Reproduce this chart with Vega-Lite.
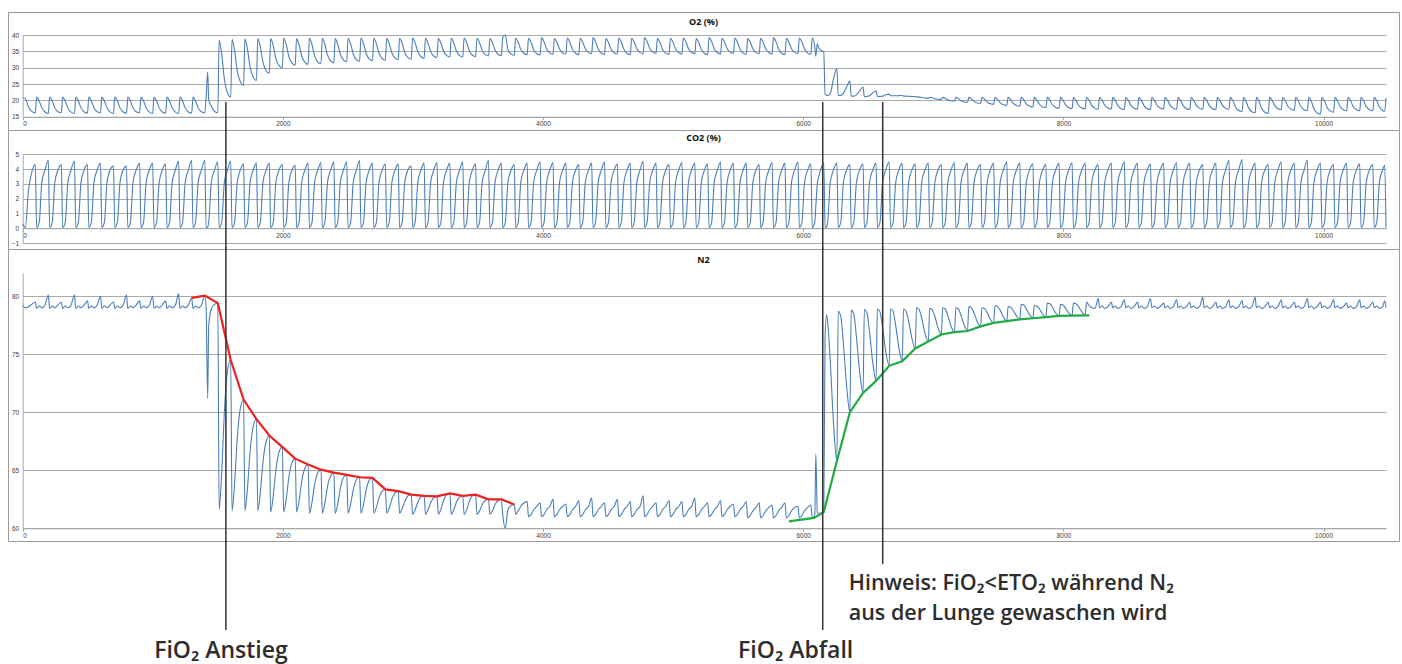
{
"$schema":"https://vega.github.io/schema/vega-lite/v6.json",
"background":"white",
"padding":{"left":7,"top":11,"right":2,"bottom":0},
"autosize":{"type":"pad"},
"bounds":"flush",
"spacing":0,
"resolve":{"scale":{"x":"independent","y":"independent"}},
"config":{
 "view":{"stroke":"#9a9a9a","strokeWidth":1},
 "axis":{"labelFont":"Liberation Sans","labelFontSize":6.5,"labelColor":"#404040","gridColor":"#a9a9a9","domainColor":"#a9a9a9","tickColor":"#a9a9a9","title":null,"labelOverlap":false,"labelBound":false,"tickCount":40},
 "title":{"font":"Open Sans","fontSize":9,"fontWeight":"bold","color":"#111111","anchor":"middle"}
},
"datasets":{
"g":[
{"t":0,"o":20.9,"c":0.3,"n":79.2},{"t":20,"o":20.6,"c":0.05,"n":79.0},{"t":45,"o":18.0,"c":2.6,"n":79.1},{"t":70,"o":16.6,"c":3.8,"n":79.3},
{"t":97,"o":16.1,"c":4.3,"n":79.5},{"t":107,"o":21,"c":0.05,"n":78.95},{"t":127,"o":19.8,"c":0.4,"n":79.15},{"t":147,"o":17.7,"c":3.1,"n":79},{"t":172,"o":16.45,"c":3.95,"n":79.25},
{"t":197,"o":16.0,"c":4.6,"n":80.1},{"t":207,"o":21,"c":0.05,"n":78.95},{"t":227,"o":19.8,"c":0.4,"n":79.15},{"t":247,"o":17.7,"c":3.1,"n":79},{"t":272,"o":16.5,"c":3.95,"n":79.25},
{"t":297,"o":16.2,"c":4.3,"n":79.5},{"t":307,"o":21,"c":0.05,"n":78.95},{"t":327,"o":19.8,"c":0.4,"n":79.15},{"t":347,"o":17.7,"c":3.1,"n":79},{"t":372,"o":16.4,"c":3.95,"n":79.25},
{"t":398,"o":16.0,"c":4.55,"n":80.1},{"t":408,"o":21,"c":0.05,"n":78.95},{"t":428,"o":19.8,"c":0.4,"n":79.15},{"t":448,"o":17.7,"c":3.1,"n":79},{"t":473,"o":16.45,"c":3.95,"n":79.25},
{"t":498,"o":16.1,"c":4.3,"n":79.6},{"t":508,"o":21,"c":0.05,"n":78.95},{"t":528,"o":19.8,"c":0.4,"n":79.15},{"t":548,"o":17.7,"c":3.1,"n":79},{"t":573,"o":16.5,"c":3.95,"n":79.25},
{"t":598,"o":16.2,"c":4.4,"n":80.0},{"t":608,"o":21,"c":0.05,"n":78.95},{"t":628,"o":19.8,"c":0.4,"n":79.15},{"t":648,"o":17.7,"c":3.1,"n":79},{"t":673,"o":16.4,"c":3.95,"n":79.25},
{"t":698,"o":16.0,"c":4.2,"n":79.5},{"t":708,"o":21,"c":0.05,"n":78.95},{"t":728,"o":19.8,"c":0.4,"n":79.15},{"t":748,"o":17.7,"c":3.1,"n":79},{"t":773,"o":16.45,"c":3.95,"n":79.25},
{"t":798,"o":16.1,"c":4.2,"n":80.1},{"t":808,"o":21,"c":0.05,"n":78.95},{"t":828,"o":19.8,"c":0.4,"n":79.15},{"t":848,"o":17.7,"c":3.1,"n":79},{"t":873,"o":16.5,"c":3.95,"n":79.25},
{"t":899,"o":16.2,"c":4.4,"n":79.6},{"t":909,"o":21,"c":0.05,"n":78.95},{"t":929,"o":19.8,"c":0.4,"n":79.15},{"t":949,"o":17.7,"c":3.1,"n":79},{"t":974,"o":16.4,"c":3.95,"n":79.25},
{"t":999,"o":16.0,"c":4.4,"n":80.0},{"t":1009,"o":21,"c":0.05,"n":78.95},{"t":1029,"o":19.8,"c":0.4,"n":79.15},{"t":1049,"o":17.7,"c":3.1,"n":79},{"t":1074,"o":16.45,"c":3.95,"n":79.25},
{"t":1099,"o":16.1,"c":4.35,"n":79.6},{"t":1109,"o":21,"c":0.05,"n":78.95},{"t":1129,"o":19.8,"c":0.4,"n":79.15},{"t":1149,"o":17.7,"c":3.1,"n":79},{"t":1174,"o":16.4,"c":3.95,"n":79.25},
{"t":1199,"o":16.0,"c":4.55,"n":80.2},{"t":1209,"o":21,"c":0.05,"n":78.95},{"t":1229,"o":19.8,"c":0.4,"n":79.15},{"t":1249,"o":17.7,"c":3.1,"n":79},{"t":1274,"o":16.45,"c":3.95,"n":79.25},
{"t":1299,"o":16.1,"c":4.6,"n":79.85},{"t":1309,"o":21,"c":0.05,"n":78.95},{"t":1329,"o":19.8,"c":0.4,"n":79.15},{"t":1349,"o":17.7,"c":3.1,"n":79},{"t":1374,"o":16.5,"c":3.95,"n":79.25},
{"t":1400,"o":16.2,"c":4.6,"n":80.05},{"t":1410,"o":21.0,"c":0.05,"n":78.9},{"t":1422,"o":28.7,"c":0.05,"n":71.2},{"t":1430,"o":20.2,"c":0.4,"n":77.5},{"t":1450,"o":18.2,"c":3.1,"n":78.9},{"t":1475,"o":16.6,"c":3.95,"n":79.3},
{"t":1500,"o":16.2,"c":4.5,"n":79.4},{"t":1510,"o":38.4,"c":0.05,"n":61.6},{"t":1530,"o":34.05,"c":0.4,"n":64.8},{"t":1550,"o":26.6,"c":3.1,"n":70.0},{"t":1575,"o":22.2,"c":3.95,"n":73.6},
{"t":1599,"o":21.0,"c":4.55,"n":74.5},{"t":1609,"o":38.7,"c":0.05,"n":61.5},{"t":1629,"o":35.2,"c":0.4,"n":63.9},{"t":1649,"o":29.1,"c":3.1,"n":67.7},{"t":1674,"o":25.6,"c":3.95,"n":70.4},
{"t":1698,"o":24.6,"c":4.35,"n":71.1},{"t":1708,"o":38.8,"c":0.05,"n":61.5},{"t":1728,"o":35.6,"c":0.4,"n":63.5},{"t":1748,"o":30.2,"c":3.1,"n":66.6},{"t":1773,"o":27.0,"c":3.95,"n":68.85},
{"t":1797,"o":26.1,"c":4.4,"n":69.4},{"t":1807,"o":38.9,"c":0.05,"n":61.5},{"t":1827,"o":36.3,"c":0.4,"n":63.1},{"t":1847,"o":31.7,"c":3.1,"n":65.7},{"t":1872,"o":29.0,"c":3.95,"n":67.5},
{"t":1896,"o":28.3,"c":4.4,"n":68.0},{"t":1906,"o":38.9,"c":0.05,"n":61.4},{"t":1926,"o":36.7,"c":0.4,"n":62.8},{"t":1946,"o":32.8,"c":3.1,"n":65.0},{"t":1971,"o":30.6,"c":3.95,"n":66.6},
{"t":1996,"o":30.0,"c":4.3,"n":67.0},{"t":2006,"o":39.0,"c":0.05,"n":61.4},{"t":2026,"o":37.0,"c":0.4,"n":62.55},{"t":2046,"o":33.4,"c":3.1,"n":64.4},{"t":2071,"o":31.4,"c":3.95,"n":65.7},
{"t":2095,"o":30.8,"c":4.25,"n":66.0},{"t":2105,"o":38.9,"c":0.05,"n":61.4},{"t":2125,"o":36.9,"c":0.4,"n":62.4},{"t":2145,"o":33.5,"c":3.1,"n":64.05},{"t":2170,"o":31.6,"c":3.95,"n":65.2},
{"t":2194,"o":31.0,"c":4.4,"n":65.5},{"t":2204,"o":39.0,"c":0.05,"n":61.3},{"t":2224,"o":37.05,"c":0.4,"n":62.25},{"t":2244,"o":33.7,"c":3.1,"n":63.75},{"t":2269,"o":31.7,"c":3.95,"n":64.8},
{"t":2293,"o":31.2,"c":4.45,"n":65.05},{"t":2303,"o":39.0,"c":0.05,"n":61.3},{"t":2323,"o":37.1,"c":0.4,"n":62.2},{"t":2343,"o":33.9,"c":3.1,"n":63.6},{"t":2368,"o":32.0,"c":3.95,"n":64.55},
{"t":2392,"o":31.5,"c":4.5,"n":64.8},{"t":2402,"o":38.9,"c":0.05,"n":61.3},{"t":2422,"o":37.1,"c":0.4,"n":62.1},{"t":2442,"o":34.1,"c":3.1,"n":63.45},{"t":2467,"o":32.3,"c":3.95,"n":64.4},
{"t":2491,"o":31.8,"c":4.5,"n":64.6},{"t":2501,"o":39.0,"c":0.05,"n":61.3},{"t":2521,"o":37.2,"c":0.4,"n":62.1},{"t":2541,"o":34.2,"c":3.1,"n":63.3},{"t":2566,"o":32.4,"c":3.95,"n":64.2},
{"t":2590,"o":31.9,"c":4.6,"n":64.4},{"t":2600,"o":39.1,"c":0.05,"n":61.3},{"t":2620,"o":37.35,"c":0.4,"n":62.05},{"t":2640,"o":34.35,"c":3.1,"n":63.3},{"t":2665,"o":32.6,"c":3.95,"n":64.15},
{"t":2689,"o":32.1,"c":4.4,"n":64.35},{"t":2699,"o":39.0,"c":0.05,"n":61.3},{"t":2719,"o":37.3,"c":0.4,"n":61.8},{"t":2739,"o":34.4,"c":3.1,"n":62.6},{"t":2764,"o":32.8,"c":3.95,"n":63.2},
{"t":2788,"o":32.3,"c":4.35,"n":63.35},{"t":2798,"o":38.9,"c":0.05,"n":61.3},{"t":2818,"o":37.3,"c":0.4,"n":61.75},{"t":2838,"o":34.5,"c":3.1,"n":62.5},{"t":2863,"o":32.95,"c":3.95,"n":63.05},
{"t":2887,"o":32.5,"c":4.35,"n":63.2},{"t":2897,"o":39.0,"c":0.05,"n":61.3},{"t":2917,"o":37.4,"c":0.4,"n":61.7},{"t":2937,"o":34.6,"c":3.1,"n":62.3},{"t":2962,"o":33.05,"c":3.95,"n":62.8},
{"t":2987,"o":32.6,"c":4.2,"n":62.9},{"t":2997,"o":39.1,"c":0.05,"n":61.2},{"t":3017,"o":37.55,"c":0.4,"n":61.6},{"t":3037,"o":34.9,"c":3.1,"n":62.25},{"t":3062,"o":33.35,"c":3.95,"n":62.7},
{"t":3086,"o":32.9,"c":4.4,"n":62.8},{"t":3096,"o":39.0,"c":0.05,"n":61.2},{"t":3116,"o":37.5,"c":0.4,"n":61.6},{"t":3136,"o":35.0,"c":3.1,"n":62.2},{"t":3161,"o":33.5,"c":3.95,"n":62.65},
{"t":3185,"o":33.1,"c":4.45,"n":62.75},{"t":3195,"o":38.9,"c":0.05,"n":61.2},{"t":3215,"o":37.5,"c":0.4,"n":61.65},{"t":3235,"o":35.1,"c":3.1,"n":62.4},{"t":3260,"o":33.7,"c":3.95,"n":62.9},
{"t":3284,"o":33.3,"c":4.4,"n":63.0},{"t":3294,"o":39.0,"c":0.05,"n":61.2},{"t":3314,"o":37.6,"c":0.4,"n":61.6},{"t":3334,"o":35.1,"c":3.1,"n":62.25},{"t":3359,"o":33.7,"c":3.95,"n":62.7},
{"t":3383,"o":33.3,"c":4.5,"n":62.8},{"t":3393,"o":39.1,"c":0.05,"n":61.2},{"t":3413,"o":37.7,"c":0.4,"n":61.6},{"t":3433,"o":35.2,"c":3.1,"n":62.3},{"t":3458,"o":33.8,"c":3.95,"n":62.8},
{"t":3482,"o":33.4,"c":4.35,"n":62.9},{"t":3492,"o":39.0,"c":0.05,"n":61.2},{"t":3512,"o":37.65,"c":0.4,"n":61.5},{"t":3532,"o":35.3,"c":3.1,"n":62.05},{"t":3557,"o":34.0,"c":3.95,"n":62.4},
{"t":3581,"o":33.6,"c":4.6,"n":62.5},{"t":3591,"o":38.9,"c":0.05,"n":61.2},{"t":3611,"o":37.6,"c":0.4,"n":61.5},{"t":3631,"o":35.4,"c":3.1,"n":62.05},{"t":3656,"o":34.05,"c":3.95,"n":62.4},
{"t":3680,"o":33.7,"c":4.4,"n":62.5},{"t":3690,"o":39.2,"c":0.05,"n":61.2},{"t":3710,"o":40.0,"c":0.4,"n":60.0},{"t":3730,"o":35.5,"c":3.1,"n":61.6},{"t":3755,"o":34.2,"c":3.95,"n":61.95},
{"t":3779,"o":33.8,"c":4.3,"n":62.05},{"t":3789,"o":39.0,"c":0.05,"n":61.2},{"t":3809,"o":37.75,"c":0.4,"n":61.5},{"t":3829,"o":35.6,"c":3.1,"n":61.9},{"t":3854,"o":34.35,"c":3.95,"n":62.2},
{"t":3878,"o":34.0,"c":4.4,"n":62.3},{"t":3888,"o":39.0,"c":0.05,"n":61.0},{"t":3908,"o":37.7,"c":0.4,"n":61.2},{"t":3928,"o":35.5,"c":3.1,"n":61.6},{"t":3953,"o":34.25,"c":3.95,"n":61.9},
{"t":3978,"o":33.9,"c":4.5,"n":62.2},{"t":3988,"o":39.2,"c":0.05,"n":61.0},{"t":4008,"o":37.9,"c":0.4,"n":61.2},{"t":4028,"o":35.7,"c":3.1,"n":61.6},{"t":4053,"o":34.45,"c":3.95,"n":61.9},
{"t":4077,"o":34.1,"c":4.45,"n":62.5},{"t":4087,"o":38.9,"c":0.05,"n":61.0},{"t":4107,"o":37.7,"c":0.4,"n":61.2},{"t":4127,"o":35.7,"c":3.1,"n":61.6},{"t":4152,"o":34.5,"c":3.95,"n":61.9},
{"t":4176,"o":34.2,"c":4.4,"n":62.1},{"t":4186,"o":39.1,"c":0.05,"n":61.0},{"t":4206,"o":37.8,"c":0.4,"n":61.2},{"t":4226,"o":35.6,"c":3.1,"n":61.6},{"t":4251,"o":34.35,"c":3.95,"n":61.9},
{"t":4275,"o":34.0,"c":4.3,"n":62.4},{"t":4285,"o":39.0,"c":0.05,"n":61.0},{"t":4305,"o":37.8,"c":0.4,"n":61.2},{"t":4325,"o":35.8,"c":3.1,"n":61.6},{"t":4350,"o":34.6,"c":3.95,"n":61.9},
{"t":4374,"o":34.3,"c":4.4,"n":62.6},{"t":4384,"o":39.2,"c":0.05,"n":61.0},{"t":4404,"o":37.9,"c":0.4,"n":61.2},{"t":4424,"o":35.7,"c":3.1,"n":61.6},{"t":4449,"o":34.45,"c":3.95,"n":61.9},
{"t":4473,"o":34.1,"c":4.5,"n":62.2},{"t":4483,"o":38.9,"c":0.05,"n":61.0},{"t":4503,"o":37.7,"c":0.4,"n":61.2},{"t":4523,"o":35.7,"c":3.1,"n":61.6},{"t":4548,"o":34.5,"c":3.95,"n":61.9},
{"t":4572,"o":34.2,"c":4.35,"n":62.5},{"t":4582,"o":39.1,"c":0.05,"n":61.0},{"t":4602,"o":37.8,"c":0.4,"n":61.2},{"t":4622,"o":35.6,"c":3.1,"n":61.6},{"t":4647,"o":34.35,"c":3.95,"n":61.9},
{"t":4671,"o":34.0,"c":4.4,"n":62.3},{"t":4681,"o":39.0,"c":0.05,"n":61.0},{"t":4701,"o":37.8,"c":0.4,"n":61.2},{"t":4721,"o":35.8,"c":3.1,"n":61.6},{"t":4746,"o":34.6,"c":3.95,"n":61.9},
{"t":4770,"o":34.3,"c":4.55,"n":62.8},{"t":4780,"o":39.2,"c":0.05,"n":61.0},{"t":4800,"o":38.0,"c":0.4,"n":61.2},{"t":4820,"o":35.9,"c":3.1,"n":61.6},{"t":4845,"o":34.75,"c":3.95,"n":61.9},
{"t":4869,"o":34.4,"c":4.4,"n":62.2},{"t":4879,"o":38.9,"c":0.05,"n":61.0},{"t":4899,"o":37.7,"c":0.4,"n":61.2},{"t":4919,"o":35.6,"c":3.1,"n":61.6},{"t":4944,"o":34.45,"c":3.95,"n":61.9},
{"t":4969,"o":34.1,"c":4.3,"n":62.4},{"t":4979,"o":39.0,"c":0.05,"n":61.0},{"t":4999,"o":37.8,"c":0.4,"n":61.2},{"t":5019,"o":35.7,"c":3.1,"n":61.6},{"t":5044,"o":34.55,"c":3.95,"n":61.9},
{"t":5068,"o":34.2,"c":4.45,"n":62.3},{"t":5078,"o":39.1,"c":0.05,"n":61.0},{"t":5098,"o":37.9,"c":0.4,"n":61.2},{"t":5118,"o":35.8,"c":3.1,"n":61.6},{"t":5143,"o":34.65,"c":3.95,"n":61.9},
{"t":5167,"o":34.3,"c":4.4,"n":62.6},{"t":5177,"o":38.9,"c":0.05,"n":61.0},{"t":5197,"o":37.7,"c":0.4,"n":61.2},{"t":5217,"o":35.6,"c":3.1,"n":61.6},{"t":5242,"o":34.35,"c":3.95,"n":61.9},
{"t":5266,"o":34.0,"c":4.35,"n":62.2},{"t":5276,"o":39.2,"c":0.05,"n":61.0},{"t":5296,"o":37.95,"c":0.4,"n":61.2},{"t":5316,"o":35.8,"c":3.1,"n":61.6},{"t":5341,"o":34.55,"c":3.95,"n":61.9},
{"t":5365,"o":34.2,"c":4.5,"n":62.4},{"t":5375,"o":39.0,"c":0.05,"n":61.0},{"t":5395,"o":37.85,"c":0.4,"n":61.2},{"t":5415,"o":35.9,"c":3.1,"n":61.6},{"t":5440,"o":34.7,"c":3.95,"n":61.9},
{"t":5464,"o":34.4,"c":4.4,"n":62.1},{"t":5474,"o":39.1,"c":0.05,"n":61.0},{"t":5494,"o":37.85,"c":0.4,"n":61.2},{"t":5514,"o":35.7,"c":3.1,"n":61.6},{"t":5539,"o":34.45,"c":3.95,"n":61.9},
{"t":5563,"o":34.1,"c":4.4,"n":62.3},{"t":5573,"o":38.9,"c":0.05,"n":60.9},{"t":5593,"o":37.75,"c":0.4,"n":61.1},{"t":5613,"o":35.8,"c":3.1,"n":61.5},{"t":5638,"o":34.6,"c":3.95,"n":61.8},
{"t":5662,"o":34.3,"c":4.3,"n":62.2},{"t":5672,"o":39.0,"c":0.05,"n":60.9},{"t":5692,"o":37.8,"c":0.4,"n":61.1},{"t":5712,"o":35.7,"c":3.1,"n":61.5},{"t":5737,"o":34.55,"c":3.95,"n":61.8},
{"t":5761,"o":34.2,"c":4.45,"n":62.0},{"t":5771,"o":39.2,"c":0.05,"n":60.9},{"t":5791,"o":37.9,"c":0.4,"n":61.1},{"t":5811,"o":35.7,"c":3.1,"n":61.5},{"t":5836,"o":34.35,"c":3.95,"n":61.8},
{"t":5860,"o":34.0,"c":4.4,"n":62.2},{"t":5870,"o":39.0,"c":0.05,"n":60.9},{"t":5890,"o":37.8,"c":0.4,"n":61.1},{"t":5910,"o":35.8,"c":3.1,"n":61.5},{"t":5935,"o":34.6,"c":3.95,"n":61.8},
{"t":5960,"o":34.3,"c":4.5,"n":61.9},{"t":5970,"o":39.1,"c":0.05,"n":60.9},{"t":5990,"o":37.85,"c":0.4,"n":61.1},{"t":6010,"o":35.7,"c":3.1,"n":61.5},{"t":6035,"o":34.45,"c":3.95,"n":61.8},
{"t":6059,"o":34.1,"c":4.35,"n":62.0},{"t":6069,"o":39.1,"c":0.05,"n":60.9},{"t":6089,"o":36.3,"c":0.4,"n":61.2},{"t":6097,"o":33.5,"c":1.5,"n":66.4},{"t":6108,"o":37.3,"c":3.0,"n":61.4},{"t":6120,"o":36.0,"c":3.5,"n":61.3},{"t":6134,"o":35.4,"c":3.95,"n":61.3},
{"t":6158,"o":34.8,"c":4.4,"n":61.4},{"t":6168,"o":21.8,"c":0.05,"n":76.5},{"t":6180,"o":21.6,"c":0.1,"n":78.4},{"t":6188,"o":21.5,"c":0.4,"n":77.8},{"t":6208,"o":22.1,"c":3.1,"n":74.4},{"t":6233,"o":26.7,"c":3.95,"n":69.0},
{"t":6259,"o":29.7,"c":4.4,"n":65.8},{"t":6269,"o":21.5,"c":0.05,"n":78.7},{"t":6289,"o":21.5,"c":0.4,"n":78.25},{"t":6309,"o":22.2,"c":3.1,"n":75.9},{"t":6334,"o":24.1,"c":3.95,"n":72.2},
{"t":6359,"o":25.9,"c":4.3,"n":70.0},{"t":6369,"o":21.3,"c":0.05,"n":78.8},{"t":6389,"o":21.3,"c":0.4,"n":78.45},{"t":6409,"o":21.7,"c":3.1,"n":76.5},{"t":6434,"o":22.9,"c":3.95,"n":73.45},
{"t":6460,"o":24.1,"c":4.35,"n":71.66},{"t":6470,"o":21.1,"c":0.05,"n":78.85},{"t":6490,"o":21.2,"c":0.4,"n":78.55},{"t":6510,"o":21.4,"c":3.1,"n":76.9},{"t":6535,"o":22.3,"c":3.95,"n":74.25},
{"t":6560,"o":22.9,"c":4.4,"n":72.7},{"t":6570,"o":21.2,"c":0.05,"n":78.9},{"t":6590,"o":21.2,"c":0.4,"n":78.65},{"t":6610,"o":21.3,"c":3.1,"n":77.3},{"t":6635,"o":21.7,"c":3.95,"n":75.2},
{"t":6661,"o":21.9,"c":4.5,"n":74.0},{"t":6671,"o":21.4,"c":0.05,"n":78.9},{"t":6691,"o":21.4,"c":0.4,"n":78.7},{"t":6711,"o":21.4,"c":3.1,"n":77.45},{"t":6736,"o":21.45,"c":3.95,"n":75.5},
{"t":6761,"o":21.5,"c":4.4,"n":74.4},{"t":6771,"o":21.3,"c":0.05,"n":78.9},{"t":6791,"o":21.3,"c":0.4,"n":78.7},{"t":6811,"o":21.25,"c":3.1,"n":77.8},{"t":6836,"o":21.2,"c":3.95,"n":76.35},
{"t":6861,"o":21.15,"c":4.35,"n":75.5},{"t":6871,"o":21.1,"c":0.05,"n":79.0},{"t":6891,"o":21.0,"c":0.4,"n":78.85},{"t":6911,"o":20.85,"c":3.1,"n":78.1},{"t":6936,"o":20.7,"c":3.95,"n":76.8},
{"t":6962,"o":20.6,"c":4.4,"n":76.1},{"t":6972,"o":20.95,"c":0.05,"n":78.95},{"t":6992,"o":20.8,"c":0.4,"n":78.85},{"t":7012,"o":20.5,"c":3.1,"n":78.25},{"t":7037,"o":20.35,"c":3.95,"n":77.25},
{"t":7062,"o":20.3,"c":4.3,"n":76.7},{"t":7072,"o":20.9,"c":0.05,"n":79.0},{"t":7092,"o":20.6,"c":0.4,"n":78.9},{"t":7112,"o":20.15,"c":3.1,"n":78.3},{"t":7137,"o":19.9,"c":3.95,"n":77.4},
{"t":7163,"o":19.8,"c":4.45,"n":76.9},{"t":7173,"o":20.9,"c":0.05,"n":79.0},{"t":7193,"o":20.5,"c":0.4,"n":78.9},{"t":7213,"o":19.9,"c":3.1,"n":78.35},{"t":7238,"o":19.5,"c":3.95,"n":77.5},
{"t":7263,"o":19.4,"c":4.4,"n":77.0},{"t":7273,"o":20.9,"c":0.05,"n":79.1},{"t":7293,"o":20.45,"c":0.4,"n":79.0},{"t":7313,"o":19.7,"c":3.1,"n":78.55},{"t":7338,"o":19.2,"c":3.95,"n":77.8},
{"t":7364,"o":19.1,"c":4.3,"n":77.4},{"t":7374,"o":20.9,"c":0.05,"n":79.0},{"t":7394,"o":20.4,"c":0.4,"n":78.95},{"t":7414,"o":19.5,"c":3.1,"n":78.6},{"t":7439,"o":18.95,"c":3.95,"n":78.0},
{"t":7464,"o":18.8,"c":4.4,"n":77.7},{"t":7474,"o":20.9,"c":0.05,"n":79.2},{"t":7494,"o":20.3,"c":0.4,"n":79.1},{"t":7514,"o":19.3,"c":3.1,"n":78.8},{"t":7539,"o":18.65,"c":3.95,"n":78.2},
{"t":7565,"o":18.5,"c":4.5,"n":77.85},{"t":7575,"o":20.9,"c":0.05,"n":79.1},{"t":7595,"o":20.2,"c":0.4,"n":79.05},{"t":7615,"o":19.05,"c":3.1,"n":78.75},{"t":7640,"o":18.4,"c":3.95,"n":78.3},
{"t":7665,"o":18.2,"c":4.4,"n":78.0},{"t":7675,"o":20.9,"c":0.05,"n":79.3},{"t":7695,"o":20.2,"c":0.4,"n":79.25},{"t":7715,"o":18.9,"c":3.1,"n":78.9},{"t":7740,"o":18.2,"c":3.95,"n":78.4},
{"t":7766,"o":18.0,"c":4.35,"n":78.1},{"t":7776,"o":20.9,"c":0.05,"n":79.2},{"t":7796,"o":20.1,"c":0.4,"n":79.15},{"t":7816,"o":18.8,"c":3.1,"n":78.9},{"t":7841,"o":18.0,"c":3.95,"n":78.45},
{"t":7866,"o":17.8,"c":4.3,"n":78.2},{"t":7876,"o":20.9,"c":0.05,"n":79.4},{"t":7896,"o":20.1,"c":0.4,"n":79.35},{"t":7916,"o":18.65,"c":3.1,"n":79.05},{"t":7941,"o":17.85,"c":3.95,"n":78.55},
{"t":7967,"o":17.6,"c":4.4,"n":78.3},{"t":7977,"o":20.9,"c":0.05,"n":79.3},{"t":7997,"o":20.05,"c":0.4,"n":79.25},{"t":8017,"o":18.6,"c":3.1,"n":78.95},{"t":8042,"o":17.75,"c":3.95,"n":78.55},
{"t":8067,"o":17.5,"c":4.45,"n":78.33},{"t":8077,"o":20.9,"c":0.05,"n":79.4},{"t":8097,"o":20.0,"c":0.4,"n":79.35},{"t":8117,"o":18.5,"c":3.1,"n":79.1},{"t":8142,"o":17.65,"c":3.95,"n":78.65},
{"t":8168,"o":17.4,"c":4.4,"n":78.4},{"t":8178,"o":20.9,"c":0.05,"n":79.5},{"t":8198,"o":20.0,"c":0.4,"n":79.2},{"t":8218,"o":18.45,"c":3.1,"n":79.0},{"t":8243,"o":17.55,"c":3.95,"n":78.95},
{"t":8268,"o":17.3,"c":4.3,"n":79.8},{"t":8278,"o":20.9,"c":0.05,"n":79.0},{"t":8298,"o":20.0,"c":0.4,"n":79.15},{"t":8318,"o":18.5,"c":3.1,"n":78.95},{"t":8343,"o":17.65,"c":3.95,"n":79.1},
{"t":8369,"o":17.4,"c":4.4,"n":79.5},{"t":8379,"o":20.9,"c":0.05,"n":79.0},{"t":8399,"o":20.0,"c":0.4,"n":79.15},{"t":8419,"o":18.4,"c":3.1,"n":78.95},{"t":8444,"o":17.45,"c":3.95,"n":79.1},
{"t":8469,"o":17.2,"c":4.5,"n":79.7},{"t":8479,"o":20.9,"c":0.05,"n":79.0},{"t":8499,"o":20.0,"c":0.4,"n":79.15},{"t":8519,"o":18.45,"c":3.1,"n":78.95},{"t":8544,"o":17.55,"c":3.95,"n":79.1},
{"t":8570,"o":17.3,"c":4.4,"n":79.5},{"t":8580,"o":20.9,"c":0.05,"n":79.0},{"t":8600,"o":20.0,"c":0.4,"n":79.15},{"t":8620,"o":18.4,"c":3.1,"n":78.95},{"t":8645,"o":17.45,"c":3.95,"n":79.1},
{"t":8670,"o":17.2,"c":4.35,"n":79.8},{"t":8680,"o":20.9,"c":0.05,"n":79.0},{"t":8700,"o":20.0,"c":0.4,"n":79.15},{"t":8720,"o":18.5,"c":3.1,"n":78.95},{"t":8745,"o":17.65,"c":3.95,"n":79.1},
{"t":8771,"o":17.4,"c":4.4,"n":79.4},{"t":8781,"o":20.9,"c":0.05,"n":79.0},{"t":8801,"o":20.0,"c":0.4,"n":79.15},{"t":8821,"o":18.45,"c":3.1,"n":78.95},{"t":8846,"o":17.55,"c":3.95,"n":79.1},
{"t":8871,"o":17.3,"c":4.45,"n":79.7},{"t":8881,"o":20.9,"c":0.05,"n":79.0},{"t":8901,"o":20.0,"c":0.4,"n":79.15},{"t":8921,"o":18.4,"c":3.1,"n":78.95},{"t":8946,"o":17.45,"c":3.95,"n":79.1},
{"t":8972,"o":17.2,"c":4.4,"n":79.5},{"t":8982,"o":20.9,"c":0.05,"n":79.0},{"t":9002,"o":20.0,"c":0.4,"n":79.15},{"t":9022,"o":18.45,"c":3.1,"n":78.95},{"t":9047,"o":17.55,"c":3.95,"n":79.1},
{"t":9072,"o":17.3,"c":4.3,"n":79.9},{"t":9082,"o":20.9,"c":0.05,"n":79.0},{"t":9102,"o":20.0,"c":0.4,"n":79.15},{"t":9122,"o":18.4,"c":3.1,"n":78.95},{"t":9147,"o":17.45,"c":3.95,"n":79.1},
{"t":9173,"o":17.2,"c":4.4,"n":79.5},{"t":9183,"o":20.9,"c":0.05,"n":79.0},{"t":9203,"o":20.0,"c":0.4,"n":79.15},{"t":9223,"o":18.45,"c":3.1,"n":78.95},{"t":9248,"o":17.55,"c":3.95,"n":79.1},
{"t":9273,"o":17.3,"c":4.6,"n":79.7},{"t":9283,"o":20.9,"c":0.05,"n":79.0},{"t":9303,"o":19.85,"c":0.4,"n":79.15},{"t":9323,"o":18.0,"c":3.1,"n":78.95},{"t":9348,"o":16.9,"c":3.95,"n":79.1},
{"t":9374,"o":16.6,"c":4.65,"n":79.6},{"t":9384,"o":20.9,"c":0.05,"n":79.0},{"t":9404,"o":19.7,"c":0.4,"n":79.15},{"t":9424,"o":17.7,"c":3.1,"n":78.95},{"t":9449,"o":16.5,"c":3.95,"n":79.1},
{"t":9474,"o":16.2,"c":4.4,"n":79.9},{"t":9484,"o":20.9,"c":0.05,"n":79.0},{"t":9504,"o":19.7,"c":0.4,"n":79.15},{"t":9524,"o":17.55,"c":3.1,"n":78.95},{"t":9549,"o":16.35,"c":3.95,"n":79.1},
{"t":9575,"o":16.0,"c":4.3,"n":79.5},{"t":9585,"o":20.9,"c":0.05,"n":79.0},{"t":9605,"o":20.0,"c":0.4,"n":79.15},{"t":9625,"o":18.4,"c":3.1,"n":78.95},{"t":9650,"o":17.45,"c":3.95,"n":79.1},
{"t":9675,"o":17.2,"c":4.5,"n":79.7},{"t":9685,"o":20.9,"c":0.05,"n":79.0},{"t":9705,"o":19.9,"c":0.4,"n":79.15},{"t":9725,"o":18.25,"c":3.1,"n":78.95},{"t":9750,"o":17.3,"c":3.95,"n":79.1},
{"t":9776,"o":17.0,"c":4.4,"n":79.5},{"t":9786,"o":20.9,"c":0.05,"n":79.0},{"t":9806,"o":19.9,"c":0.4,"n":79.15},{"t":9826,"o":18.1,"c":3.1,"n":78.95},{"t":9851,"o":17.1,"c":3.95,"n":79.1},
{"t":9876,"o":16.8,"c":4.6,"n":79.8},{"t":9886,"o":20.9,"c":0.05,"n":79.0},{"t":9906,"o":19.7,"c":0.4,"n":79.15},{"t":9926,"o":17.45,"c":3.1,"n":78.95},{"t":9951,"o":16.15,"c":3.95,"n":79.1},
{"t":9977,"o":15.8,"c":4.4,"n":79.5},{"t":9987,"o":20.9,"c":0.05,"n":79.0},{"t":10007,"o":19.8,"c":0.4,"n":79.15},{"t":10027,"o":17.85,"c":3.1,"n":78.95},{"t":10052,"o":16.7,"c":3.95,"n":79.1},
{"t":10077,"o":16.4,"c":4.3,"n":79.7},{"t":10087,"o":20.9,"c":0.05,"n":79.0},{"t":10107,"o":19.9,"c":0.4,"n":79.15},{"t":10127,"o":18.1,"c":3.1,"n":78.95},{"t":10152,"o":17.1,"c":3.95,"n":79.1},
{"t":10178,"o":16.8,"c":4.4,"n":79.4},{"t":10188,"o":20.9,"c":0.05,"n":79.0},{"t":10208,"o":19.9,"c":0.4,"n":79.15},{"t":10228,"o":18.1,"c":3.1,"n":78.95},{"t":10253,"o":17.1,"c":3.95,"n":79.1},
{"t":10278,"o":16.8,"c":4.35,"n":79.7},{"t":10288,"o":20.9,"c":0.05,"n":79.0},{"t":10308,"o":19.9,"c":0.4,"n":79.15},{"t":10328,"o":18.1,"c":3.1,"n":78.95},{"t":10353,"o":17.1,"c":3.95,"n":79.1},
{"t":10379,"o":16.8,"c":4.3,"n":79.5},{"t":10389,"o":20.9,"c":0.05,"n":79.0},{"t":10409,"o":19.85,"c":0.4,"n":79.15},{"t":10429,"o":18.0,"c":3.1,"n":78.95},{"t":10454,"o":16.9,"c":3.95,"n":79.1},
{"t":10470,"o":16.6,"c":4.25,"n":79.6},{"t":10480,"o":20.8,"c":0.05,"n":79.0}
],
"red":[
{"t":1299,"v":79.85},{"t":1400,"v":80.05},{"t":1500,"v":79.4},{"t":1599,"v":74.5},{"t":1698,"v":71.1},{"t":1797,"v":69.4},{"t":1896,"v":68.0},{"t":1996,"v":67.0},{"t":2095,"v":66.0},{"t":2194,"v":65.5},{"t":2293,"v":65.05},{"t":2392,"v":64.8},{"t":2491,"v":64.6},{"t":2590,"v":64.4},{"t":2689,"v":64.35},{"t":2788,"v":63.35},{"t":2887,"v":63.2},{"t":2987,"v":62.9},{"t":3086,"v":62.8},{"t":3185,"v":62.75},{"t":3284,"v":63.0},{"t":3383,"v":62.8},{"t":3482,"v":62.9},{"t":3581,"v":62.5},{"t":3680,"v":62.5},{"t":3779,"v":62.05}
],
"green":[
{"t":5890,"v":60.6},{"t":6083,"v":60.9},{"t":6158,"v":61.4},{"t":6259,"v":65.8},{"t":6359,"v":70.0},{"t":6460,"v":71.66},{"t":6560,"v":72.7},{"t":6661,"v":74.0},{"t":6761,"v":74.4},{"t":6861,"v":75.5},{"t":6962,"v":76.1},{"t":7062,"v":76.7},{"t":7163,"v":76.9},{"t":7263,"v":77.0},{"t":7364,"v":77.4},{"t":7464,"v":77.7},{"t":7565,"v":77.85},{"t":7665,"v":78.0},{"t":7766,"v":78.1},{"t":7866,"v":78.2},{"t":7967,"v":78.3},{"t":8067,"v":78.33},{"t":8200,"v":78.35}
],
"lines":[
{"t":1562,"o1":19.5,"o2":10.8,"c1":6.7,"c2":-1.45,"n1":84.2,"n2":58.8,"a1":0,"a2":0.718},
{"t":6150,"o1":19.5,"o2":10.8,"c1":6.7,"c2":-1.45,"n1":84.2,"n2":58.8,"a1":0,"a2":0.718},
{"t":6611,"o1":19.5,"o2":10.8,"c1":6.7,"c2":-1.45,"n1":84.2,"n2":58.8,"a1":0,"a2":0.185}
],
"labelsC":[{"t":1524,"d":0.887,"label":"FiO₂ Anstieg"},{"t":5942,"d":0.887,"label":"FiO₂ Abfall"}],
"labelsL":[{"t":6350,"d":0.347,"label":"Hinweis: FiO₂<ETO₂ während N₂"},{"t":6350,"d":0.589,"label":"aus der Lunge gewaschen wird"}]
},
"vconcat":[
{
 "width":1391,"height":118,
 "title":{"text":"O2 (%)","offset":-19,"baseline":"middle"},
 "layer":[
  {"data":{"name":"g"},"mark":{"type":"line","color":"#4a7ebb","strokeWidth":1.1,"interpolate":"monotone"},
   "encoding":{
    "x":{"field":"t","type":"quantitative","scale":{"domain":[0,10480],"range":[14.7,1378],"nice":false,"zero":false},"axis":{"values":[0,2000,4000,6000,8000,10000],"format":"d","grid":false,"offset":-13.3,"tickSize":3,"labelPadding":1}},
    "y":{"field":"o","type":"quantitative","scale":{"domain":[15,40],"range":[104.7,23],"zero":false,"nice":false},"axis":{"values":[15,20,25,30,35,40],"format":"d","offset":-14.7,"tickSize":0,"labelPadding":4,"grid":true}}
   }},
  {"data":{"name":"lines"},"mark":{"type":"rule","color":"#333333","strokeWidth":1.5},
   "encoding":{"x":{"field":"t","type":"quantitative"},"y":{"field":"o1","type":"quantitative"},"y2":{"field":"o2"}}}
 ]
},
{
 "width":1391,"height":119,
 "title":{"text":"CO2 (%)","offset":-19,"baseline":"middle"},
 "layer":[
  {"data":{"name":"g"},"mark":{"type":"line","color":"#4a7ebb","strokeWidth":1.1,"interpolate":"monotone"},
   "encoding":{
    "x":{"field":"t","type":"quantitative","scale":{"domain":[0,10480],"range":[14.7,1378],"nice":false,"zero":false},"axis":{"values":[0,2000,4000,6000,8000,10000],"format":"d","grid":false,"offset":-20.8,"tickSize":3,"labelPadding":1}},
    "y":{"field":"c","type":"quantitative","scale":{"domain":[-1,5],"range":[113,24.3],"zero":false,"nice":false},"axis":{"values":[-1,0,1,2,3,4,5],"format":"d","offset":-14.7,"tickSize":0,"labelPadding":4,"grid":true}}
   }},
  {"data":{"name":"lines"},"mark":{"type":"rule","color":"#333333","strokeWidth":1.5},
   "encoding":{"x":{"field":"t","type":"quantitative"},"y":{"field":"c1","type":"quantitative"},"y2":{"field":"c2"}}}
 ]
},
{
 "width":1391,"height":292,
 "title":{"text":"N2","offset":-22,"baseline":"middle"},
 "layer":[
  {"data":{"name":"g"},"mark":{"type":"line","color":"#4a7ebb","strokeWidth":1.1,"interpolate":"monotone"},
   "encoding":{
    "x":{"field":"t","type":"quantitative","scale":{"domain":[0,10480],"range":[14.7,1378],"nice":false,"zero":false},"axis":{"values":[0,2000,4000,6000,8000,10000],"format":"d","grid":false,"offset":-12.7,"tickSize":3,"labelPadding":1}},
    "y":{"field":"n","type":"quantitative","scale":{"domain":[60,82],"range":[279.3,24],"zero":false,"nice":false},"axis":{"values":[60,65,70,75,80],"format":"d","offset":-14.7,"tickSize":0,"labelPadding":4,"grid":true}}
   }},
  {"data":{"name":"red"},"mark":{"type":"line","color":"#ee2020","strokeWidth":2.2},
   "encoding":{"x":{"field":"t","type":"quantitative"},"y":{"field":"v","type":"quantitative"}}},
  {"data":{"name":"green"},"mark":{"type":"line","color":"#22aa44","strokeWidth":2.2},
   "encoding":{"x":{"field":"t","type":"quantitative"},"y":{"field":"v","type":"quantitative"}}},
  {"data":{"name":"lines"},"mark":{"type":"rule","color":"#333333","strokeWidth":1.5},
   "encoding":{"x":{"field":"t","type":"quantitative"},"y":{"field":"n1","type":"quantitative"},"y2":{"field":"n2"}}}
 ]
},
{
 "width":1391,"height":124,
 "view":{"stroke":null},
 "layer":[
  {"data":{"name":"lines"},"mark":{"type":"rule","color":"#333333","strokeWidth":1.5},
   "encoding":{
    "x":{"field":"t","type":"quantitative","scale":{"domain":[0,10480],"range":[14.7,1378],"nice":false,"zero":false},"axis":null},
    "y":{"field":"a1","type":"quantitative","scale":{"domain":[1,0],"nice":false,"zero":false},"axis":null},
    "y2":{"field":"a2"}}},
  {"data":{"name":"labelsC"},"mark":{"type":"text","align":"center","baseline":"middle","font":"Open Sans, Noto Sans","fontSize":23,"fontWeight":600,"color":"#2d2d2d"},
   "encoding":{"x":{"field":"t","type":"quantitative"},"y":{"field":"d","type":"quantitative"},"text":{"field":"label"}}},
  {"data":{"name":"labelsL"},"mark":{"type":"text","align":"left","baseline":"middle","font":"Open Sans, Noto Sans","fontSize":21.5,"fontWeight":600,"color":"#2d2d2d"},
   "encoding":{"x":{"field":"t","type":"quantitative"},"y":{"field":"d","type":"quantitative"},"text":{"field":"label"}}}
 ]
}
]
}
